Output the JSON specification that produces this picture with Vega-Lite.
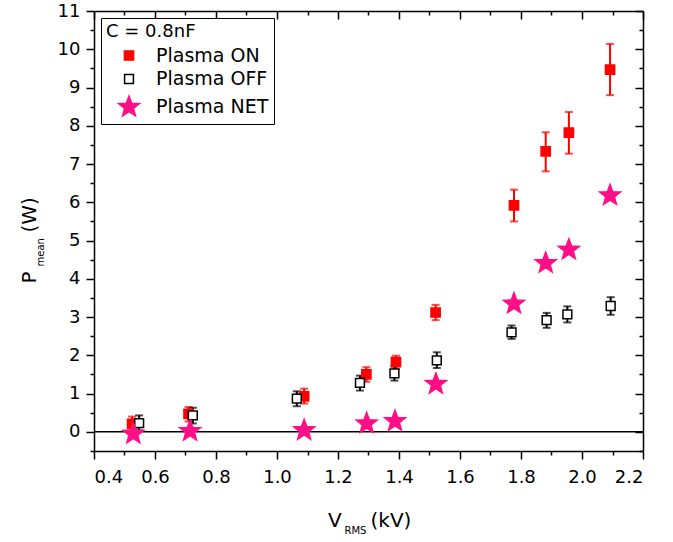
{
  "$schema": "https://vega.github.io/schema/vega-lite/v6.json",
  "width": 549,
  "height": 440,
  "autosize": {"type": "none"},
  "padding": {"left": 94, "top": 11, "right": 30, "bottom": 91},
  "background": "white",
  "config": {
    "view": {"stroke": null},
    "font": "DejaVu Sans",
    "axis": {
      "grid": false,
      "domainColor": "black",
      "domainWidth": 1.5,
      "tickColor": "black",
      "tickWidth": 1.5,
      "labelColor": "black",
      "labelFont": "DejaVu Sans",
      "labelFontSize": 18,
      "titleColor": "black",
      "titleFont": "DejaVu Sans",
      "titleFontSize": 20,
      "titleFontWeight": "normal"
    },
    "legend": {
      "orient": "top-left",
      "offset": 7,
      "fillColor": "white",
      "strokeColor": "black",
      "strokeWidth": 1,
      "padding": 5,
      "titleFont": "DejaVu Sans",
      "titleFontSize": 18,
      "titleFontWeight": "normal",
      "titleColor": "black",
      "titlePadding": 5,
      "labelFont": "DejaVu Sans",
      "labelFontSize": 19,
      "labelColor": "black",
      "symbolOffset": 11,
      "labelOffset": 15,
      "rowPadding": 3.5,
      "symbolStrokeWidth": 1.5
    }
  },
  "data": {
    "values": [
      {"series": "Plasma ON", "v": 0.525, "p": 0.21, "lo": 0.02, "hi": 0.40},
      {"series": "Plasma ON", "v": 0.710, "p": 0.47, "lo": 0.27, "hi": 0.65},
      {"series": "Plasma ON", "v": 1.089, "p": 0.93, "lo": 0.74, "hi": 1.13},
      {"series": "Plasma ON", "v": 1.293, "p": 1.50, "lo": 1.31, "hi": 1.69},
      {"series": "Plasma ON", "v": 1.390, "p": 1.82, "lo": 1.64, "hi": 1.99},
      {"series": "Plasma ON", "v": 1.520, "p": 3.12, "lo": 2.92, "hi": 3.32},
      {"series": "Plasma ON", "v": 1.777, "p": 5.92, "lo": 5.50, "hi": 6.33},
      {"series": "Plasma ON", "v": 1.881, "p": 7.33, "lo": 6.81, "hi": 7.83},
      {"series": "Plasma ON", "v": 1.957, "p": 7.82, "lo": 7.27, "hi": 8.36},
      {"series": "Plasma ON", "v": 2.092, "p": 9.47, "lo": 8.80, "hi": 10.14},
      {"series": "Plasma OFF", "v": 0.548, "p": 0.23, "lo": 0.04, "hi": 0.43},
      {"series": "Plasma OFF", "v": 0.724, "p": 0.43, "lo": 0.22, "hi": 0.63},
      {"series": "Plasma OFF", "v": 1.065, "p": 0.87, "lo": 0.67, "hi": 1.06},
      {"series": "Plasma OFF", "v": 1.272, "p": 1.28, "lo": 1.08, "hi": 1.47},
      {"series": "Plasma OFF", "v": 1.385, "p": 1.53, "lo": 1.34, "hi": 1.71},
      {"series": "Plasma OFF", "v": 1.524, "p": 1.87, "lo": 1.67, "hi": 2.08},
      {"series": "Plasma OFF", "v": 1.769, "p": 2.60, "lo": 2.43, "hi": 2.78},
      {"series": "Plasma OFF", "v": 1.884, "p": 2.92, "lo": 2.72, "hi": 3.11},
      {"series": "Plasma OFF", "v": 1.952, "p": 3.07, "lo": 2.86, "hi": 3.28},
      {"series": "Plasma OFF", "v": 2.094, "p": 3.29, "lo": 3.06, "hi": 3.52},
      {"series": "Plasma NET", "v": 0.529, "p": -0.05},
      {"series": "Plasma NET", "v": 0.715, "p": 0.02},
      {"series": "Plasma NET", "v": 1.089, "p": 0.04},
      {"series": "Plasma NET", "v": 1.294, "p": 0.22},
      {"series": "Plasma NET", "v": 1.387, "p": 0.28},
      {"series": "Plasma NET", "v": 1.521, "p": 1.25},
      {"series": "Plasma NET", "v": 1.777, "p": 3.35},
      {"series": "Plasma NET", "v": 1.881, "p": 4.41},
      {"series": "Plasma NET", "v": 1.957, "p": 4.76},
      {"series": "Plasma NET", "v": 2.092, "p": 6.18}
    ]
  },
  "layer": [
    {
      "layer": [
        {
          "data": {"values": [{"level": 0}]},
          "mark": {"type": "rule", "color": "black", "strokeWidth": 1.5},
          "encoding": {
            "y": {"field": "level", "type": "quantitative"}
          }
        },
        {
          "transform": [{"filter": "datum.series == 'Plasma ON'"}],
          "mark": {"type": "errorbar", "ticks": true, "color": "#ff0000", "thickness": 2, "size": 8},
          "encoding": {
            "x": {"field": "v", "type": "quantitative"},
            "y": {"field": "lo", "type": "quantitative"},
            "y2": {"field": "hi"}
          }
        },
        {
          "transform": [{"filter": "datum.series == 'Plasma OFF'"}],
          "mark": {"type": "errorbar", "ticks": true, "color": "#000000", "thickness": 2, "size": 8},
          "encoding": {
            "x": {"field": "v", "type": "quantitative"},
            "y": {"field": "lo", "type": "quantitative"},
            "y2": {"field": "hi"}
          }
        },
        {
          "mark": {"type": "point", "filled": true, "opacity": 1, "strokeWidth": 1.5},
          "encoding": {
            "x": {"field": "v", "type": "quantitative"},
            "y": {"field": "p", "type": "quantitative"},
            "fill": {"field": "series", "type": "nominal", "title": "C = 0.8nF",
                     "scale": {"domain": ["Plasma ON", "Plasma OFF", "Plasma NET"], "range": ["#ff0000", "#ffffff", "#ff0f87"]}},
            "stroke": {"field": "series", "type": "nominal", "title": "C = 0.8nF",
                       "scale": {"domain": ["Plasma ON", "Plasma OFF", "Plasma NET"], "range": ["#ff0000", "#000000", "#ff0f87"]}},
            "shape": {"field": "series", "type": "nominal", "title": "C = 0.8nF",
                      "scale": {"domain": ["Plasma ON", "Plasma OFF", "Plasma NET"],
                                "range": ["square", "square", "M0,-1L0.2469,-0.3398L0.9511,-0.309L0.3995,0.1298L0.5878,0.809L0,0.42L-0.5878,0.809L-0.3995,0.1298L-0.9511,-0.309L-0.2469,-0.3398Z"]}},
            "size": {"field": "series", "type": "nominal", "title": "C = 0.8nF",
                     "scale": {"type": "ordinal", "domain": ["Plasma ON", "Plasma OFF", "Plasma NET"], "range": [85, 78, 480]}}
          }
        }
      ],
      "encoding": {
        "x": {"scale": {"domain": [0.4, 2.2], "nice": false, "zero": false},
              "axis": {"orient": "bottom", "title": "V",
                       "titleX": 233.5, "titleY": 75, "titleAlign": "left", "titleBaseline": "alphabetic",
                       "values": [0.4, 0.5, 0.6, 0.7, 0.8, 0.9, 1.0, 1.1, 1.2, 1.3, 1.4, 1.5, 1.6, 1.7, 1.8, 1.9, 2.0, 2.1, 2.2],
                       "labelExpr": "round(datum.value * 10) % 2 == 0 ? format(datum.value, '.1f') : ''",
                       "labelPadding": 9,
                       "tickSize": {"condition": {"test": "round(datum.value * 10) % 2 == 0", "value": 8}, "value": 4}}},
        "y": {"scale": {"domain": [-0.5, 11], "nice": false, "zero": false},
              "axis": {"orient": "left", "title": "P", "titleAngle": 270,
                       "titleX": -59, "titleY": 272, "titleAlign": "left", "titleBaseline": "alphabetic",
                       "values": [-0.5, 0, 0.5, 1, 1.5, 2, 2.5, 3, 3.5, 4, 4.5, 5, 5.5, 6, 6.5, 7, 7.5, 8, 8.5, 9, 9.5, 10, 10.5, 11],
                       "labelExpr": "datum.value % 1 == 0 ? format(datum.value, 'd') : ''",
                       "labelPadding": 6,
                       "tickSize": {"condition": {"test": "datum.value % 1 == 0", "value": 8}, "value": 4}}}
      }
    },
    {
      "mark": {"type": "point", "opacity": 0},
      "encoding": {
        "x": {"field": "v", "type": "quantitative", "scale": {"domain": [0.4, 2.2], "nice": false, "zero": false},
              "axis": {"orient": "top", "title": null, "labels": false,
                       "values": [0.4, 0.5, 0.6, 0.7, 0.8, 0.9, 1.0, 1.1, 1.2, 1.3, 1.4, 1.5, 1.6, 1.7, 1.8, 1.9, 2.0, 2.1, 2.2],
                       "tickSize": {"condition": {"test": "round(datum.value * 10) % 2 == 0", "value": -8}, "value": -4}}},
        "y": {"field": "p", "type": "quantitative", "scale": {"domain": [-0.5, 11], "nice": false, "zero": false},
              "axis": {"orient": "right", "title": null, "labels": false,
                       "values": [-0.5, 0, 0.5, 1, 1.5, 2, 2.5, 3, 3.5, 4, 4.5, 5, 5.5, 6, 6.5, 7, 7.5, 8, 8.5, 9, 9.5, 10, 10.5, 11],
                       "tickSize": {"condition": {"test": "datum.value % 1 == 0", "value": -8}, "value": -4}}}
      }
    },
    {
      "mark": {"type": "point", "opacity": 0},
      "encoding": {
        "x": {"field": "v", "type": "quantitative", "scale": {"domain": [0.4, 2.2], "nice": false, "zero": false},
              "axis": {"orient": "bottom", "title": "RMS", "titleFontSize": 10,
                       "titleX": 250, "titleY": 82, "titleAlign": "left", "titleBaseline": "alphabetic",
                       "domain": false, "ticks": false, "labels": false}},
        "y": {"field": "p", "type": "quantitative", "scale": {"domain": [-0.5, 11], "nice": false, "zero": false},
              "axis": {"orient": "left", "title": "mean", "titleFontSize": 10, "titleAngle": 270,
                       "titleX": -51, "titleY": 255, "titleAlign": "left", "titleBaseline": "alphabetic",
                       "domain": false, "ticks": false, "labels": false}}
      }
    },
    {
      "mark": {"type": "point", "opacity": 0},
      "encoding": {
        "x": {"field": "v", "type": "quantitative", "scale": {"domain": [0.4, 2.2], "nice": false, "zero": false},
              "axis": {"orient": "bottom", "title": "(kV)",
                       "titleX": 276, "titleY": 75, "titleAlign": "left", "titleBaseline": "alphabetic",
                       "domain": false, "ticks": false, "labels": false}},
        "y": {"field": "p", "type": "quantitative", "scale": {"domain": [-0.5, 11], "nice": false, "zero": false},
              "axis": {"orient": "left", "title": "(W)", "titleAngle": 270,
                       "titleX": -59, "titleY": 221, "titleAlign": "left", "titleBaseline": "alphabetic",
                       "domain": false, "ticks": false, "labels": false}}
      }
    }
  ],
  "resolve": {"scale": {"x": "independent", "y": "independent"}}
}
